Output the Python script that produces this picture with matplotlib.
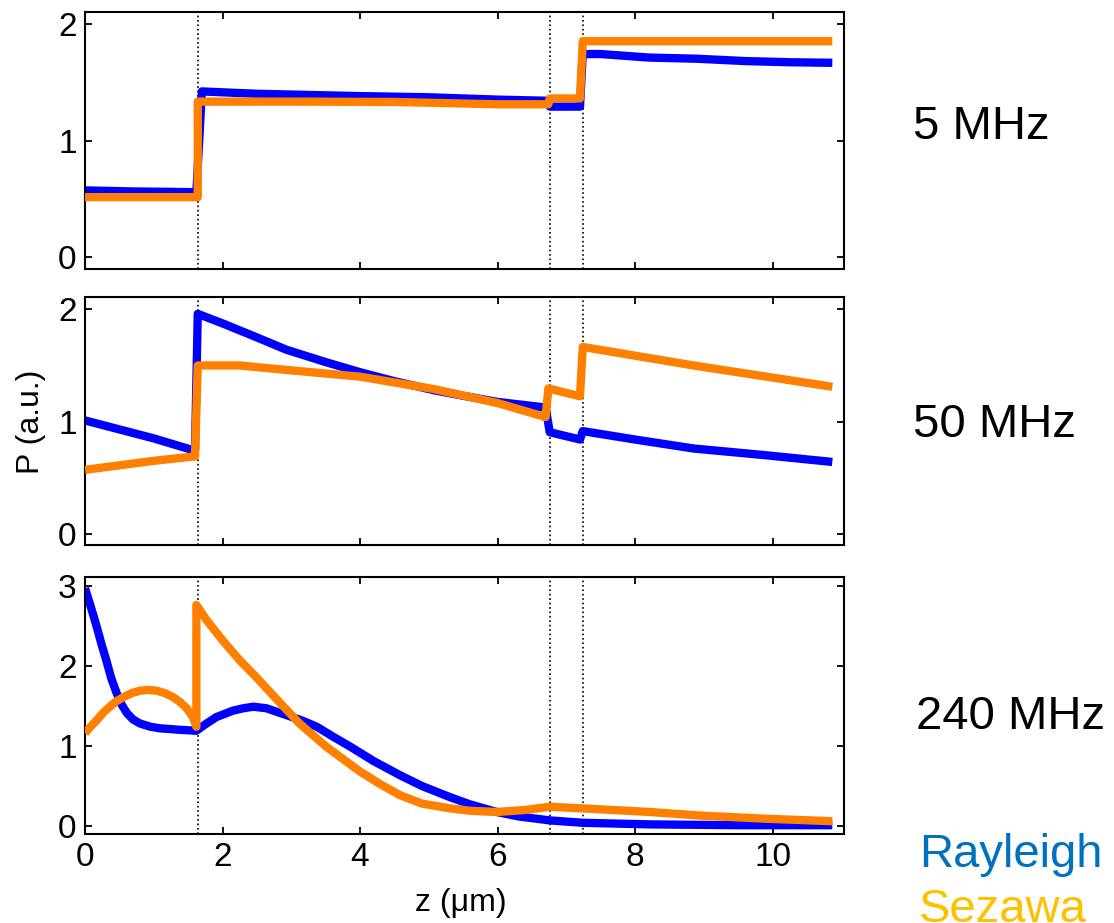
import matplotlib
matplotlib.use("Agg")
import matplotlib.pyplot as plt
import numpy as np

plt.rcParams['font.family'] = ['Liberation Sans', 'DejaVu Sans']

# interfaces (dotted lines), um
z_if = [1.64, 6.76, 7.24]

# ---- 5 MHz ----
z5_ray = [0, 0.7, 1.57, 1.62, 1.7, 2.5, 4.0, 5.0, 6.0, 6.74, 6.76, 7.2, 7.24, 7.5, 8.2, 8.9, 9.6, 10.25, 10.87]
p5_ray = [0.573, 0.564, 0.558, 0.558, 1.42, 1.40, 1.38, 1.37, 1.35, 1.34, 1.29, 1.29, 1.74, 1.74, 1.71, 1.70, 1.68, 1.67, 1.665]
z5_sez = [0, 1.64, 1.64, 3.0, 4.5, 6.0, 6.74, 6.76, 7.2, 7.24, 10.87]
p5_sez = [0.515, 0.515, 1.333, 1.333, 1.33, 1.31, 1.31, 1.36, 1.36, 1.85, 1.85]

# ---- 50 MHz ----
z50_ray = [0, 0.5, 1.0, 1.6, 1.64, 2.0, 2.5, 2.93, 3.5, 4.0, 4.5, 5.07, 5.5, 6.0, 6.7,
           6.76, 7.2, 7.24, 8.0, 8.85, 9.9, 10.87]
p50_ray = [1.01, 0.93, 0.85, 0.74, 1.96, 1.875, 1.75, 1.64, 1.53, 1.44, 1.36, 1.28, 1.23, 1.175, 1.125,
           0.905, 0.84, 0.915, 0.84, 0.76, 0.70, 0.64]
z50_sez = [0, 0.5, 1.0, 1.6, 1.64, 2.0, 2.25, 2.93, 4.0, 5.07, 6.0, 6.7, 6.74, 7.2, 7.24, 8.85, 10.87]
p50_sez = [0.57, 0.61, 0.65, 0.69, 1.50, 1.50, 1.50, 1.46, 1.40, 1.29, 1.165, 1.04, 1.295, 1.225, 1.665, 1.50, 1.31]

# ---- 240 MHz ----
z240_ray = [0, 0.08, 0.17, 0.24, 0.31, 0.38, 0.46, 0.53, 0.61, 0.70, 0.80, 0.95, 1.09, 1.25, 1.40, 1.62,
            1.75, 1.91, 2.15, 2.30, 2.45, 2.64, 2.93, 3.15, 3.37, 3.60, 3.86, 4.20, 4.58, 4.90, 5.31,
            5.60, 5.99, 6.30, 6.76, 7.24, 8.22, 9.5, 10.87]
p240_ray = [2.97, 2.75, 2.49, 2.27, 2.07, 1.85, 1.66, 1.52, 1.41, 1.33, 1.28, 1.24, 1.22, 1.21, 1.20, 1.19,
            1.27, 1.36, 1.44, 1.47, 1.49, 1.47, 1.385, 1.32, 1.24, 1.12, 0.99, 0.81, 0.635, 0.50, 0.36,
            0.27, 0.175, 0.12, 0.07, 0.04, 0.02, 0.01, 0.01]
z240_sez = [0, 0.08, 0.17, 0.26, 0.36, 0.46, 0.56, 0.68, 0.80, 0.92, 1.04, 1.16, 1.28, 1.38, 1.48, 1.57,
            1.62, 1.62, 1.77, 2.0, 2.25, 2.49, 2.78, 3.12, 3.51, 4.0, 4.30, 4.58, 4.90, 5.31, 5.60, 5.99,
            6.4, 6.76, 7.24, 8.22, 8.95, 9.92, 10.87]
p240_sez = [1.16, 1.24, 1.32, 1.41, 1.49, 1.56, 1.61, 1.66, 1.69, 1.70, 1.69, 1.66, 1.61, 1.55, 1.47, 1.36,
            1.24, 2.76, 2.57, 2.32, 2.07, 1.86, 1.59, 1.28, 0.99, 0.68, 0.52, 0.385, 0.28, 0.22, 0.19, 0.175,
            0.20, 0.24, 0.22, 0.175, 0.13, 0.09, 0.06]

freq_labels = ['5 MHz', '50 MHz', '240 MHz']
ylims = [(-0.1, 2.1), (-0.1, 2.11), (-0.1, 3.11)]
yticks = [[0, 1, 2], [0, 1, 2], [0, 1, 2, 3]]

c_ray = (0, 0, 1)
c_sez = (1, 0.5, 0)

W, H = 1114, 923
fig = plt.figure(figsize=(W / 100, H / 100), dpi=100)

# axes boxes in pixels: (top, bottom)
boxes = [(12, 269), (297, 545), (577, 834)]
left, right = 85, 844
data = [(z5_ray, p5_ray, z5_sez, p5_sez),
        (z50_ray, p50_ray, z50_sez, p50_sez),
        (z240_ray, p240_ray, z240_sez, p240_sez)]
label_base = [139, 437, 729]
label_x = [913, 913, 916]

for i in range(3):
    top, bot = boxes[i]
    ax = fig.add_axes([left / W, 1 - bot / H, (right - left) / W, (bot - top) / H])
    zr, pr, zs, ps = data[i]
    for z in z_if:
        ax.axvline(z, color='k', ls=':', lw=1.2, zorder=1)
    ax.plot(zr, pr, color=c_ray, lw=6, solid_capstyle='butt', solid_joinstyle='round', zorder=2)
    ax.plot(zs, ps, color=c_sez, lw=6, solid_capstyle='butt', solid_joinstyle='round', zorder=3)
    ax.set_xlim(0, 11.04)
    ax.set_ylim(*ylims[i])
    ax.set_xticks([0, 2, 4, 6, 8, 10])
    ax.set_yticks(yticks[i])
    ax.tick_params(direction='in', top=True, right=True, length=5, width=1.3,
                   labelsize=24, pad=6)
    if i < 2:
        ax.tick_params(labelbottom=False)
    for s in ax.spines.values():
        s.set_linewidth(1.5)
    fig.text(label_x[i] / W, 1 - label_base[i] / H, freq_labels[i], fontsize=34, va='baseline')

fig.text(461 / W, 1 - 903 / H, 'z (\u03bcm)', fontsize=23, ha='center', va='center')
fig.text(31 / W, 1 - 422 / H, 'P (a.u.)', fontsize=23, ha='center', va='center', rotation=90)

fig.text(919 / W, 1 - 867 / H, 'Rayleigh', fontsize=34, color='#0070C0', va='baseline')
fig.text(919 / W, 1 - 922 / H, 'Sezawa', fontsize=34, color='#FFC000', va='baseline')

fig.savefig('out.png', dpi=100)
